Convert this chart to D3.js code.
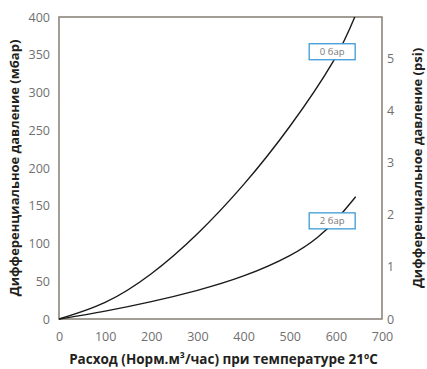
<!DOCTYPE html>
<html><head><meta charset="utf-8">
<script src="https://cdn.jsdelivr.net/npm/d3@7"></script>
<style>body{margin:0;background:#fff}</style>
</head><body><svg id="c" width="427" height="369"></svg>
<script>
const flow0 = [0,100,200,300,400,500,594,641];
const dp0   = [0,22,60,113,178,255,341,400];
const flow2 = [0,100,200,300,400,500,560,600,643];
const dp2   = [0,10.5,23,38,57,84,108,131,162];
const xTicks = [0,100,200,300,400,500,600,700];
const yTicks = [0,50,100,150,200,250,300,350,400];
const psiTicks = [0,1,2,3,4,5];
const seriesNames = ["0 бар","2 бар"];
const labelAt = [[592,354],[592,130]];
const MBAR_PER_PSI = 68.95;

const svg = d3.select("#c");
const L=59,R=382,T=17,B=319;
const x = d3.scaleLinear().domain([0,700]).range([L,R]);
const y = d3.scaleLinear().domain([0,400]).range([B,T]);
const yp = d3.scaleLinear().domain([0,400/MBAR_PER_PSI]).range([B,T]);
const axisCol="#8c857b", tickCol="#6f6f6f", font="'Open Sans', sans-serif";

const ax = svg.append("g").attr("transform",`translate(0,${B})`)
  .call(d3.axisBottom(x).tickValues(xTicks).tickSize(0).tickPadding(13).tickFormat(d3.format("d")));
const ay = svg.append("g").attr("transform",`translate(${L},0)`)
  .call(d3.axisLeft(y).tickValues(yTicks).tickSize(0).tickPadding(9).tickFormat(d3.format("d")));
const ar = svg.append("g").attr("transform",`translate(${R},0)`)
  .call(d3.axisRight(yp).tickValues(psiTicks).tickSize(0).tickPadding(5).tickFormat(d3.format("d")));
[ax,ay,ar].forEach(g=>{g.select(".domain").remove();
  g.selectAll("text").attr("fill",tickCol).style("font-family",font).style("font-size","12.5px");});

svg.append("rect").attr("x",L).attr("y",T).attr("width",R-L).attr("height",B-T)
  .attr("fill","none").attr("stroke",axisCol).attr("stroke-width",1.6);

const line = d3.line().x(d=>x(d[0])).y(d=>y(d[1])).curve(d3.curveNatural);
[[flow0,dp0],[flow2,dp2]].forEach(([f,v])=>{
  svg.append("path").datum(f.map((q,i)=>[q,v[i]])).attr("d",line)
    .attr("fill","none").attr("stroke","#1a1a1a").attr("stroke-width",1.4);
});

seriesNames.forEach((n,i)=>{
  const cx=x(labelAt[i][0]), cy=y(labelAt[i][1]);
  svg.append("rect").attr("x",cx-23).attr("y",cy-8).attr("width",46).attr("height",16)
    .attr("fill","#fff").attr("stroke","#3d9bd6").attr("stroke-width",1.3);
  svg.append("text").attr("x",cx).attr("y",cy+3.5).attr("text-anchor","middle")
    .attr("fill","#777").style("font-family",font).style("font-size","9.5px").text(n);
});

const tf = {fill:"#231f20", weight:"bold", size:"13px"};
svg.append("text").attr("x",(L+R)/2+3).attr("y",364).attr("text-anchor","middle")
  .attr("fill",tf.fill).style("font-family",font).style("font-weight",tf.weight).style("font-size","13.5px")
  .text("Расход (Норм.м³/час) при температуре 21ºC");
svg.append("text").attr("transform",`translate(19,${(T+B)/2}) rotate(-90)`).attr("text-anchor","middle")
  .attr("fill",tf.fill).style("font-family",font).style("font-weight",tf.weight).style("font-size",tf.size)
  .text("Дифференциальное давление (мбар)");
svg.append("text").attr("transform",`translate(422,${(T+B)/2}) rotate(-90)`).attr("text-anchor","middle")
  .attr("fill",tf.fill).style("font-family",font).style("font-weight",tf.weight).style("font-size",tf.size)
  .text("Дифференциальное давление (psi)");
</script></body></html>
